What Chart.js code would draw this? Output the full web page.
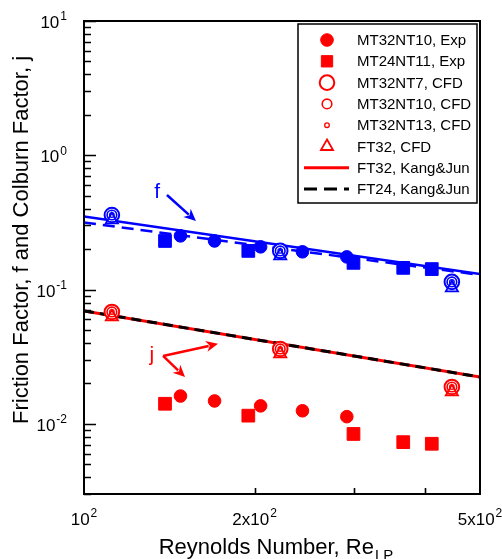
<!DOCTYPE html>
<html><head><meta charset="utf-8">
<script src="https://cdn.jsdelivr.net/npm/chart.js@4/dist/chart.umd.min.js"></script>
<style>html,body{margin:0;padding:0;background:#fff;overflow:hidden;}</style>
</head><body>
<canvas id="c" width="502" height="559"></canvas>
<script>
// ---------- data ----------
const reExpMT32NT10 = [148, 170, 205, 243, 291];
const reExpMT24NT11 = [139, 195, 299, 366, 411];
const reCFD = [112, 222, 446];
const reLine = [100, 500];

const fExpMT32NT10 = [0.251, 0.230, 0.208, 0.191, 0.175];
const fExpMT24NT11 = [0.230, 0.194, 0.158, 0.145, 0.142];
const fCfdMT32NT7  = [0.359, 0.194, 0.114];
const fCfdMT32NT10 = [0.359, 0.194, 0.114];
const fCfdMT32NT13 = [0.359, 0.194, 0.114];
const fCfdFT32     = [0.330, 0.178, 0.103];
const fKangJunFT32 = [0.350, 0.1306];
const fKangJunFT24 = [0.316, 0.1285];

const jExpMT32NT10 = [0.0161, 0.0148, 0.0136, 0.0125, 0.0113];
const jExpMT24NT11 = [0.0141, 0.0115, 0.0084, 0.0073, 0.0071];
const jCfdMT32NT7  = [0.0681, 0.0361, 0.0188];
const jCfdMT32NT10 = [0.0681, 0.0361, 0.0188];
const jCfdMT32NT13 = [0.0681, 0.0361, 0.0188];
const jCfdFT32     = [0.0625, 0.0332, 0.0173];
const jKangJunFT32 = [0.0693, 0.0223];
const jKangJunFT24 = [0.0693, 0.0223];

const seriesLabels = ['MT32NT10, Exp','MT24NT11, Exp','MT32NT7, CFD','MT32NT10, CFD','MT32NT13, CFD','FT32, CFD','FT32, Kang&Jun','FT24, Kang&Jun'];

const xRange = [100, 500];
const yRange = [0.003, 10];
const xTickValues = [100, 200, 500];
const xTickBase = ['10', '2x10', '5x10'];
const xTickExp = ['2', '2', '2'];
const yTickValues = [10, 1, 0.1, 0.01];
const yTickBase = ['10', '10', '10', '10'];
const yTickExp = ['1', '0', '-1', '-2'];
const xMinorTicks = [200, 300, 400];

const xTitle = 'Reynolds Number, Re';
const xTitleSub = 'LP';
const yTitle = 'Friction Factor, f and Colburn Factor, j';

// annotations in data coordinates
const fText = {x: 134.6, y: 0.533, t: 'f'};
const fArrow = [[140.1, 0.506], [157.6, 0.324]];
const jText = {x: 131.8, y: 0.0326, t: 'j'};
const jArrows = [[[137.9, 0.0320], [172.4, 0.0394]], [[137.9, 0.0320], [150.8, 0.0223]]];

// ---------- helpers ----------
const RED = '#ff0000', BLUE = '#0000ff', BLACK = '#000000';
const FONT = '"Liberation Sans", Arial, Helvetica, sans-serif';
const zip = (xs, ys) => xs.map((x, i) => ({x: x, y: ys[i]}));

const st = {
  expCircle: {pointStyle: 'circle', pointRadius: 6.3, borderWidth: 1, fill: true},
  expSquare: {pointStyle: 'rect', pointRadius: 9, borderWidth: 1, fill: true},
  cfd7: {pointStyle: 'circle', pointRadius: 7.3, borderWidth: 2, fill: 'white'},
  cfd10: {pointStyle: 'circle', pointRadius: 4.8, borderWidth: 1.6, fill: false},
  cfd13: {pointStyle: 'circle', pointRadius: 2.3, borderWidth: 1.3, fill: false},
  tri: {pointStyle: 'triangle', pointRadius: 7, borderWidth: 1.8, fill: false}
};

function markerDs(label, xs, ys, color, s, order) {
  const bg = s.fill === true ? color : (s.fill === 'white' ? '#ffffff' : 'rgba(0,0,0,0)');
  return {label: label, data: zip(xs, ys), showLine: false, pointStyle: s.pointStyle,
    pointRadius: s.pointRadius, pointHoverRadius: s.pointRadius, pointBorderWidth: s.borderWidth,
    pointBackgroundColor: bg, pointBorderColor: color, borderColor: color, backgroundColor: bg, order: order};
}
function lineDs(label, xs, ys, color, width, dash, order) {
  return {label: label, data: zip(xs, ys), showLine: true, pointRadius: 0, borderColor: color,
    borderWidth: width, borderDash: dash, backgroundColor: color, fill: false, order: order, tension: 0};
}

const datasets = [
  lineDs('f ' + seriesLabels[6], reLine, fKangJunFT32, BLUE, 2.5, [], 20),
  lineDs('f ' + seriesLabels[7], reLine, fKangJunFT24, BLUE, 2.5, [12, 7], 19),
  lineDs(seriesLabels[6], reLine, jKangJunFT32, RED, 3, [], 18),
  lineDs(seriesLabels[7], reLine, jKangJunFT24, BLACK, 3, [10, 6], 17),
  markerDs('f ' + seriesLabels[0], reExpMT32NT10, fExpMT32NT10, BLUE, st.expCircle, 10),
  markerDs('f ' + seriesLabels[1], reExpMT24NT11, fExpMT24NT11, BLUE, st.expSquare, 11),
  markerDs('f ' + seriesLabels[2], reCFD, fCfdMT32NT7, BLUE, st.cfd7, 6),
  markerDs('f ' + seriesLabels[3], reCFD, fCfdMT32NT10, BLUE, st.cfd10, 5),
  markerDs('f ' + seriesLabels[4], reCFD, fCfdMT32NT13, BLUE, st.cfd13, 4),
  markerDs('f ' + seriesLabels[5], reCFD, fCfdFT32, BLUE, st.tri, 3),
  markerDs(seriesLabels[0], reExpMT32NT10, jExpMT32NT10, RED, st.expCircle, 10),
  markerDs(seriesLabels[1], reExpMT24NT11, jExpMT24NT11, RED, st.expSquare, 11),
  markerDs(seriesLabels[2], reCFD, jCfdMT32NT7, RED, st.cfd7, 6),
  markerDs(seriesLabels[3], reCFD, jCfdMT32NT10, RED, st.cfd10, 5),
  markerDs(seriesLabels[4], reCFD, jCfdMT32NT13, RED, st.cfd13, 4),
  markerDs(seriesLabels[5], reCFD, jCfdFT32, RED, st.tri, 3)
];

function drawMarker(ctx, s, color, x, y) {
  ctx.save();
  ctx.lineWidth = s.borderWidth;
  ctx.strokeStyle = color;
  ctx.fillStyle = s.fill === true ? color : (s.fill === 'white' ? '#ffffff' : 'rgba(0,0,0,0)');
  const r = s.pointStyle === 'rect' ? 8 : s.pointRadius;
  ctx.beginPath();
  if (s.pointStyle === 'circle') ctx.arc(x, y, r, 0, Math.PI * 2);
  else if (s.pointStyle === 'rect') { const h = Math.SQRT1_2 * r; ctx.rect(x - h, y - h, 2 * h, 2 * h); }
  else if (s.pointStyle === 'triangle') {
    ctx.moveTo(x, y - r);
    ctx.lineTo(x + r * Math.sin(Math.PI * 2 / 3), y - r * Math.cos(Math.PI * 2 / 3));
    ctx.lineTo(x + r * Math.sin(Math.PI * 4 / 3), y - r * Math.cos(Math.PI * 4 / 3));
    ctx.closePath();
  }
  ctx.fill();
  ctx.stroke();
  ctx.restore();
}

function drawArrow(ctx, x1, y1, x2, y2, color) {
  const ang = Math.atan2(y2 - y1, x2 - x1);
  const hl = 12, hw = 5.5;
  ctx.save();
  ctx.strokeStyle = color; ctx.fillStyle = color; ctx.lineWidth = 2.5;
  ctx.beginPath();
  ctx.moveTo(x1, y1);
  ctx.lineTo(x2 - Math.cos(ang) * hl * 0.8, y2 - Math.sin(ang) * hl * 0.8);
  ctx.stroke();
  ctx.beginPath();
  ctx.moveTo(x2, y2);
  ctx.lineTo(x2 - Math.cos(ang) * hl + Math.sin(ang) * hw, y2 - Math.sin(ang) * hl - Math.cos(ang) * hw);
  ctx.lineTo(x2 - Math.cos(ang) * hl * 0.7, y2 - Math.sin(ang) * hl * 0.7);
  ctx.lineTo(x2 - Math.cos(ang) * hl - Math.sin(ang) * hw, y2 - Math.sin(ang) * hl + Math.cos(ang) * hw);
  ctx.closePath();
  ctx.fill();
  ctx.restore();
}

function supText(ctx, base, exp, x, y, align, size) {
  ctx.font = size + 'px ' + FONT;
  const wb = ctx.measureText(base).width;
  const supSize = Math.round(size * 0.68);
  ctx.font = supSize + 'px ' + FONT;
  const we = ctx.measureText(exp).width;
  const total = wb + we + 1;
  let x0 = align === 'right' ? x - total : (align === 'center' ? x - total / 2 : x);
  ctx.textAlign = 'left';
  ctx.textBaseline = 'alphabetic';
  ctx.font = size + 'px ' + FONT;
  ctx.fillText(base, x0, y);
  ctx.font = supSize + 'px ' + FONT;
  ctx.fillText(exp, x0 + wb + 1, y - size * 0.45);
}

const decor = {
  id: 'decor',
  beforeDatasetsDraw(chart) {
    const {ctx, chartArea: a} = chart;
    ctx.save();
    ctx.fillStyle = '#ffffff';
    ctx.fillRect(a.left, a.top, a.right - a.left, a.bottom - a.top);
    ctx.restore();
  },
  afterDraw(chart) {
    const {ctx, chartArea: a} = chart;
    const xs = chart.scales.x, ys = chart.scales.y;
    ctx.save();
    // frame
    ctx.strokeStyle = BLACK; ctx.lineWidth = 2;
    ctx.strokeRect(a.left, a.top, a.right - a.left, a.bottom - a.top);
    // y ticks inside (major + minor)
    ctx.lineWidth = 1.6;
    ctx.beginPath();
    for (let e = -3; e <= 1; e++) {
      for (let m = 1; m <= 9; m++) {
        const v = m * Math.pow(10, e);
        if (v < yRange[0] * 0.999 || v > yRange[1] * 1.001) continue;
        const py = Math.round(ys.getPixelForValue(v)) + 0.5;
        const len = m === 1 ? 12 : 7;
        ctx.moveTo(a.left, py); ctx.lineTo(a.left + len, py);
      }
    }
    xMinorTicks.forEach(v => {
      const px = Math.round(xs.getPixelForValue(v)) + 0.5;
      ctx.moveTo(px, a.bottom); ctx.lineTo(px, a.bottom - 6);
    });
    ctx.stroke();
    // tick labels
    ctx.fillStyle = BLACK;
    yTickValues.forEach((v, i) => {
      const py = ys.getPixelForValue(v);
      supText(ctx, yTickBase[i], yTickExp[i], 67, py + 7, 'right', 17);
    });
    xTickValues.forEach((v, i) => {
      const px = xs.getPixelForValue(v);
      supText(ctx, xTickBase[i], xTickExp[i], px, a.bottom + 31, 'center', 17);
    });
    // axis titles
    ctx.font = '22px ' + FONT;
    const w1 = ctx.measureText(xTitle).width;
    ctx.font = '15px ' + FONT;
    const w2 = ctx.measureText(xTitleSub).width;
    const cx = 276;
    let x0 = cx - (w1 + w2 + 1) / 2;
    ctx.textAlign = 'left'; ctx.textBaseline = 'alphabetic';
    ctx.font = '22px ' + FONT;
    ctx.fillText(xTitle, x0, 554);
    ctx.font = '15px ' + FONT;
    ctx.fillText(xTitleSub, x0 + w1 + 1, 560);
    ctx.save();
    ctx.translate(28, 240);
    ctx.rotate(-Math.PI / 2);
    ctx.font = '22px ' + FONT;
    ctx.textAlign = 'center';
    ctx.fillText(yTitle, 0, 0);
    ctx.restore();
    // annotations
    ctx.font = '21px ' + FONT;
    ctx.textAlign = 'center'; ctx.textBaseline = 'middle';
    ctx.fillStyle = BLUE;
    ctx.fillText(fText.t, xs.getPixelForValue(fText.x), ys.getPixelForValue(fText.y));
    drawArrow(ctx, xs.getPixelForValue(fArrow[0][0]), ys.getPixelForValue(fArrow[0][1]),
      xs.getPixelForValue(fArrow[1][0]), ys.getPixelForValue(fArrow[1][1]), BLUE);
    ctx.fillStyle = RED;
    ctx.fillText(jText.t, xs.getPixelForValue(jText.x), ys.getPixelForValue(jText.y));
    jArrows.forEach(ar => drawArrow(ctx, xs.getPixelForValue(ar[0][0]), ys.getPixelForValue(ar[0][1]),
      xs.getPixelForValue(ar[1][0]), ys.getPixelForValue(ar[1][1]), RED));
    // legend
    const L = {x1: 298, y1: 24, x2: 477, y2: 203};
    ctx.fillStyle = '#ffffff';
    ctx.fillRect(L.x1, L.y1, L.x2 - L.x1, L.y2 - L.y1);
    ctx.strokeStyle = BLACK; ctx.lineWidth = 1.5;
    ctx.strokeRect(L.x1, L.y1, L.x2 - L.x1, L.y2 - L.y1);
    const legendStyles = [st.expCircle, st.expSquare, st.cfd7, st.cfd10, st.cfd13, st.tri];
    ctx.font = '15px ' + FONT;
    ctx.textAlign = 'left'; ctx.textBaseline = 'middle';
    seriesLabels.forEach((lab, i) => {
      const y = 40 + i * 21.3;
      if (i < 6) {
        drawMarker(ctx, legendStyles[i], RED, 327, y);
      } else {
        ctx.save();
        ctx.strokeStyle = i === 6 ? RED : BLACK;
        ctx.lineWidth = 3;
        ctx.setLineDash(i === 6 ? [] : [13, 7]);
        ctx.beginPath(); ctx.moveTo(304, y); ctx.lineTo(349, y); ctx.stroke();
        ctx.restore();
      }
      ctx.fillStyle = BLACK;
      ctx.fillText(lab, 357, y + 1);
    });
    ctx.restore();
  }
};

new Chart(document.getElementById('c'), {
  type: 'scatter',
  data: {datasets: datasets},
  options: {
    responsive: false,
    animation: false,
    events: [],
    layout: {padding: {top: 21, right: 22, left: 0, bottom: 0}},
    plugins: {legend: {display: false}, tooltip: {enabled: false}, title: {display: false}},
    scales: {
      x: {type: 'logarithmic', min: xRange[0], max: xRange[1], position: 'bottom',
        grid: {display: false, drawTicks: false}, border: {display: false},
        ticks: {display: false}, title: {display: false},
        afterFit(s) { s.height = 65; }},
      y: {type: 'logarithmic', min: yRange[0], max: yRange[1], position: 'left',
        grid: {display: false, drawTicks: false}, border: {display: false},
        ticks: {display: false}, title: {display: false},
        afterFit(s) { s.width = 84; }}
    }
  },
  plugins: [decor]
});
</script>
</body></html>
